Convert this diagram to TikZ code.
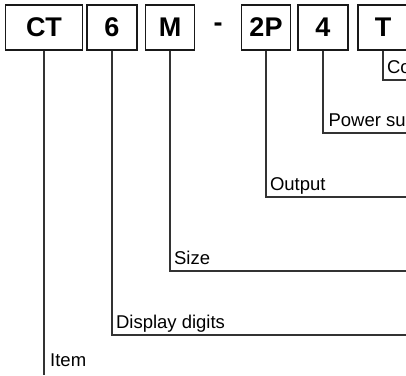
\documentclass[tikz,border=0pt]{standalone}
\usepackage{fontspec}
\setmainfont{Liberation Sans}
\usetikzlibrary{positioning,calc}
\definecolor{codeline}{HTML}{333333}
\tikzset{
  % kodrutor
  cbox/.style={draw=black!90,line width=1.1pt,minimum height=45pt,
               inner sep=0pt,font=\fontsize{27}{27}\selectfont\bfseries},
  cdash/.style={inner sep=0pt,font=\fontsize{27}{27}\selectfont\bfseries},
  % ledare
  lead/.style={draw=codeline,line width=1.1pt},
  lbltext/.style={anchor=base west,inner sep=0pt,
                  font=\fontsize{18.5}{18.5}\selectfont},
  lbl/.style={lbltext,xshift=3.5pt,yshift=7pt},
}
\begin{document}
\begin{tikzpicture}[x=1pt,y=-1pt]
  \useasboundingbox (0,0) rectangle (406,375);
  \clip (0,0) rectangle (406,375);
  \node[cbox,minimum width=77pt] (ct) at (44,27.5) {CT};
  \node[cbox,minimum width=50pt] (six) at (112,27.5) {6};
  \node[cbox,minimum width=49pt] (m) at (170,27.5) {M};
  \node[cdash] (dash) at (218,27.5) {-};
  \node[cbox,minimum width=49pt] (twop) at (266,27.5) {2P};
  \node[cbox,minimum width=50pt] (four) at (323,27.5) {4};
  \node[cbox,minimum width=50pt] (t) at (383,27.5) {T};
  \coordinate (coend) at (406,80);
  \coordinate (powend) at (406,133);
  \coordinate (outend) at (406,197);
  \coordinate (sizeend) at (406,271);
  \coordinate (digend) at (406,335);
  \coordinate (itemend) at (44,375);
  \draw[lead] (t.south) |- node[lbl,pos=0.5]{Co} (coend);
  \draw[lead] (four.south) |- node[lbl,pos=0.5,xshift=1.5pt]{Power su} (powend);
  \draw[lead] (twop.south) |- node[lbl,pos=0.5]{Output} (outend);
  \draw[lead] (m.south) |- node[lbl,pos=0.5]{Size} (sizeend);
  \draw[lead] (six.south) |- node[lbl,pos=0.5]{Display digits} (digend);
  \draw[lead] (ct.south) -- (itemend);
  \node[lbltext] (item) at (50,366) {Item};
\end{tikzpicture}
\end{document}
